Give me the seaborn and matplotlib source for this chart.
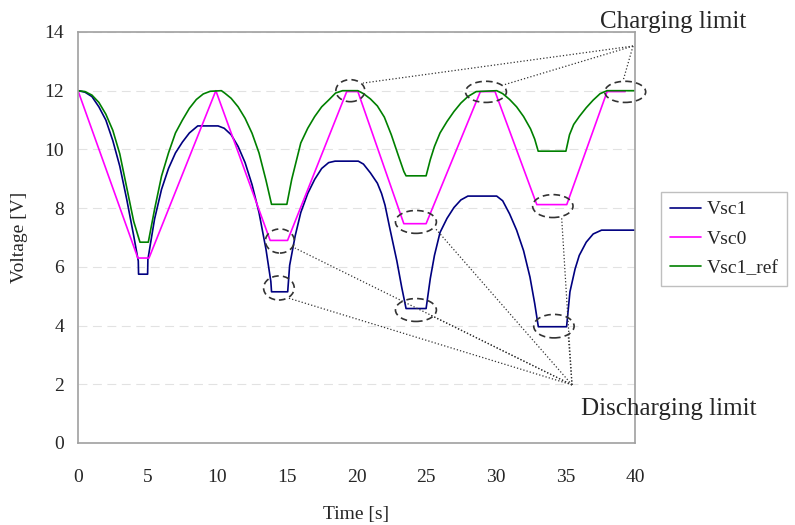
import matplotlib
matplotlib.use("Agg")
import matplotlib.pyplot as plt
import pandas as pd
import seaborn as sns
from matplotlib.patches import Ellipse

# Vsc1 (blue)
t_vsc1 = [0, 0.5, 1, 1.5, 2, 2.5, 3, 3.5, 4, 4.33, 4.35, 5.0, 5.02, 5.3, 5.5, 6, 6.5, 7, 7.5, 8, 8.6, 10.06,
          10.5, 11, 11.5, 12, 12.5, 13, 13.5, 13.85, 13.9, 15.06,
          15.2, 15.6, 16, 16.5, 17, 17.5, 18, 18.46, 20.13,
          20.5, 21, 21.5, 21.8, 22.05, 22.4, 22.9, 23.25, 23.56, 25.0,
          25.3, 25.6, 26, 26.5, 27, 27.5, 28, 30.07,
          30.5, 31, 31.5, 32, 32.46, 32.8, 33.06, 35.09,
          35.33, 35.7, 36, 36.5, 37, 37.6, 40]
v_vsc1 = [12.0, 11.95, 11.8, 11.45, 11.0, 10.3, 9.43, 8.3, 7.06, 6.2, 5.75, 5.75, 6.25, 7.06, 7.63, 8.64, 9.35, 9.88, 10.25, 10.56, 10.8, 10.8,
          10.72, 10.5, 10.1, 9.55, 8.8, 7.85, 6.6, 5.5, 5.15, 5.15,
          6.05, 7.06, 7.85, 8.5, 8.98, 9.35, 9.55, 9.6, 9.6,
          9.5, 9.2, 8.85, 8.5, 8.1, 7.3, 6.2, 5.3, 4.58, 4.58,
          5.6, 6.39, 7.17, 7.65, 8.02, 8.28, 8.41, 8.41,
          8.25, 7.8, 7.25, 6.55, 5.65, 4.75, 3.96, 3.96,
          5.15, 5.93, 6.39, 6.84, 7.12, 7.25, 7.25]

# Vsc0 (magenta), corner points
t_vsc0 = [0, 4.3, 5.1, 9.9, 13.8, 15.05, 19.3, 20.1, 23.4, 25.0, 28.9, 29.95, 32.95, 35.1, 38.0, 39.3]
v_vsc0 = [12.0, 6.3, 6.3, 12.0, 6.9, 6.9, 11.97, 11.97, 7.47, 7.47, 11.97, 11.97, 8.12, 8.12, 11.97, 11.97]

# Vsc1_ref (green)
t_ref = [0, 0.5, 1, 1.5, 2, 2.5, 3, 3.5, 4, 4.45, 5.05, 5.5, 6, 6.5, 7, 7.5, 8, 8.5, 9, 9.5, 10.3,
         10.56, 11, 11.5, 12, 12.5, 13, 13.5, 13.9, 15.0,
         15.35, 16, 16.5, 17, 17.5, 18, 18.5, 19, 20.1,
         20.5, 21, 21.5, 22, 22.5, 23, 23.4, 23.56, 25.0,
         25.3, 25.6, 26, 26.5, 27, 27.5, 28, 28.6, 30.07,
         30.5, 31, 31.5, 32, 32.5, 32.8, 33.05, 35.04,
         35.3, 35.6, 36, 36.5, 37, 37.5, 38, 40]
v_ref = [12.0, 11.97, 11.85, 11.6, 11.2, 10.65, 9.85, 8.7, 7.55, 6.84, 6.84, 7.96, 9.09, 9.88, 10.56, 11.0, 11.4, 11.7, 11.89, 11.98, 12.0,
         11.91, 11.74, 11.45, 11.06, 10.55, 9.88, 8.95, 8.13, 8.13,
         8.98, 10.22, 10.72, 11.12, 11.45, 11.68, 11.92, 12.0, 12.0,
         11.9, 11.72, 11.48, 11.1, 10.5, 9.8, 9.25, 9.1, 9.1,
         9.65, 10.1, 10.56, 10.95, 11.29, 11.58, 11.8, 11.97, 12.0,
         11.9, 11.7, 11.45, 11.12, 10.7, 10.35, 9.94, 9.94,
         10.5, 10.85, 11.12, 11.42, 11.68, 11.9, 12.0, 12.0]

series_names = ["Vsc1", "Vsc0", "Vsc1_ref"]
series_colors = ["#000080", "#ff00ff", "#008000"]

# annotation ellipses (center t, center v, width s, height V)
charge_marks = [(19.56, 12.0, 2.08, 0.75), (29.3, 11.96, 2.94, 0.72), (39.3, 11.96, 2.94, 0.72)]
charge_tips = [(20.47, 12.26), (30.52, 12.19), (39.14, 12.33)]
charge_hub = (39.86, 13.52)
discharge_marks = [(14.5, 6.88, 2.08, 0.82), (14.43, 5.28, 2.2, 0.82), (24.27, 7.53, 2.94, 0.78),
                   (24.27, 4.53, 2.94, 0.78), (34.1, 8.07, 2.9, 0.78), (34.18, 3.98, 2.9, 0.8)]
discharge_tips = [(15.58, 6.64), (15.08, 4.94), (25.64, 7.32), (25.28, 4.36), (34.73, 7.71), (35.2, 3.7)]
discharge_hub = (35.48, 1.98)

df = pd.concat([
    pd.DataFrame({"time": t_vsc1, "voltage": v_vsc1, "series": "Vsc1"}),
    pd.DataFrame({"time": t_vsc0, "voltage": v_vsc0, "series": "Vsc0"}),
    pd.DataFrame({"time": t_ref, "voltage": v_ref, "series": "Vsc1_ref"}),
], ignore_index=True)

sns.set_style("white")
plt.rcParams["font.family"] = ["Liberation Serif", "DejaVu Serif"]

fig = plt.figure(figsize=(7.95, 5.25), dpi=100)
ax = fig.add_axes([0.0981, 0.1562, 0.7006, 0.7829])

sns.lineplot(data=df, x="time", y="voltage", hue="series", hue_order=series_names,
             palette=series_colors, sort=False, estimator=None, lw=1.2, ax=ax)

for (cx, cy, w, h) in charge_marks + discharge_marks:
    ax.add_patch(Ellipse((cx, cy), w, h, fill=False, ec="#333333", lw=1.2,
                         ls=(0, (4, 2.5)), clip_on=False, zorder=5))
for tx, ty in charge_tips:
    ax.plot([charge_hub[0], tx], [charge_hub[1], ty], ls=":", color="#333333", lw=0.9, clip_on=False)
for tx, ty in discharge_tips:
    ax.plot([discharge_hub[0], tx], [discharge_hub[1], ty], ls=":", color="#333333", lw=0.9, clip_on=False)

ax.set_xlim(0, 40)
ax.set_ylim(0, 14)
ax.set_xticks(range(0, 41, 5))
ax.set_yticks(range(0, 15, 2))
ax.yaxis.grid(True, ls=(0, (8, 5)), color="#e2e2e2", lw=0.8)
ax.xaxis.grid(False)
for s in ax.spines.values():
    s.set_color("#a0a0a0")
    s.set_linewidth(1.2)
ax.tick_params(axis="x", direction="in", length=4, color="#a0a0a0", pad=19, labelsize=14)
ax.tick_params(axis="y", length=0, pad=10, labelsize=14)
ax.set_xlabel("Time [s]", fontsize=14, labelpad=14)
ax.set_ylabel("Voltage [V]", fontsize=14, labelpad=12)

leg = ax.legend(loc="upper left", bbox_to_anchor=(661 / 795, 1 - 192 / 525), bbox_transform=fig.transFigure,
                borderaxespad=0, fontsize=14, frameon=True, fancybox=False, handlelength=1.6,
                handletextpad=0.3, labelspacing=0.6, borderpad=0.45)
leg.get_frame().set_edgecolor("#b0b0b0")
leg.get_frame().set_linewidth(1.0)

fig.text(600 / 795, 1 - 22 / 525, "Charging limit", fontsize=18, va="center", ha="left")
fig.text(581 / 795, 1 - 409 / 525, "Discharging limit", fontsize=18, va="center", ha="left")

fig.savefig("out.png", dpi=100)
